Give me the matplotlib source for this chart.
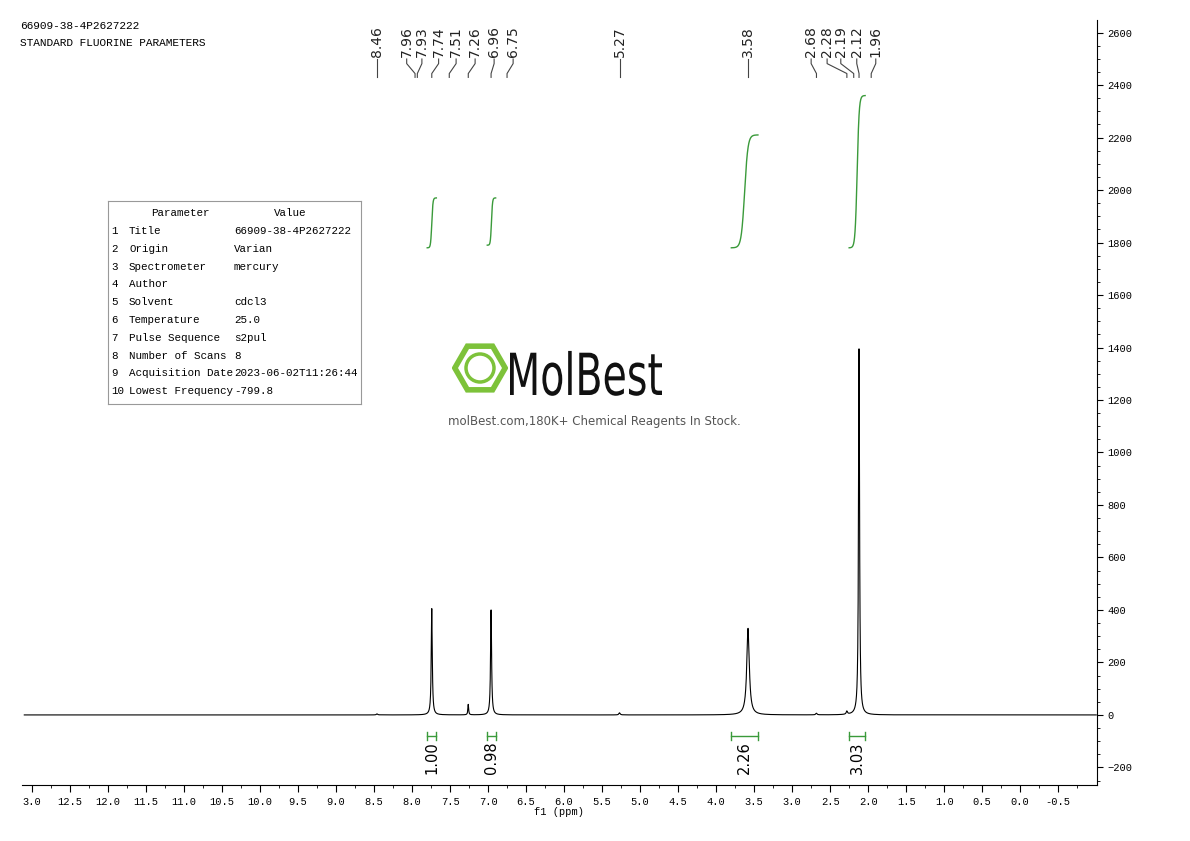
import numpy as np
import matplotlib
matplotlib.use("Agg")
import matplotlib.pyplot as plt
from matplotlib.patches import RegularPolygon, Circle, PathPatch
from matplotlib.textpath import TextPath
from matplotlib.font_manager import FontProperties
import matplotlib.transforms as mtrans

# ---- data ----
peak_pos = [8.46, 7.74, 7.26, 6.96, 5.27, 3.58, 2.68, 2.28, 2.12]
peak_height = [4, 405, 40, 400, 8, 330, 6, 12, 1395]
peak_width = [0.01, 0.008, 0.006, 0.008, 0.01, 0.02, 0.01, 0.01, 0.008]
label_vals = ["8.46", "7.96", "7.93", "7.74", "7.51", "7.26", "6.96", "6.75",
              "5.27", "3.58", "2.68", "2.28", "2.19", "2.12", "1.96"]
label_ppm = [8.46, 7.96, 7.93, 7.74, 7.51, 7.26, 6.96, 6.75, 5.27, 3.58, 2.68, 2.28, 2.19, 2.12, 1.96]
label_xpix_ppm = [8.46, 8.07, 7.87, 7.65, 7.42, 7.17, 6.92, 6.67, 5.27, 3.58, 2.75, 2.54, 2.36, 2.15, 1.90]
int_ranges = [(7.80, 7.68), (7.01, 6.90), (3.80, 3.45), (2.25, 2.04)]
int_values = ["1.00", "0.98", "2.26", "3.03"]
int_start = [1780, 1790, 1780, 1780]
int_end = [1970, 1970, 2210, 2360]
params = ["Title", "Origin", "Spectrometer", "Author", "Solvent", "Temperature",
          "Pulse Sequence", "Number of Scans", "Acquisition Date", "Lowest Frequency"]
values = ["66909-38-4P2627222", "Varian", "mercury", "", "cdcl3", "25.0",
          "s2pul", "8", "2023-06-02T11:26:44", "-799.8"]

mono = ["Liberation Mono", "DejaVu Sans Mono"]
fig = plt.figure(figsize=(11.9, 8.41), dpi=100)
ax = fig.add_axes([22/1190, 56/841, 1075/1190, 765/841])

x = np.linspace(-1.0, 13.1, 60000)
y = np.zeros_like(x)
for p, h, w in zip(peak_pos, peak_height, peak_width):
    y += h * w**2 / ((x - p)**2 + w**2)
ax.plot(x, y, color="black", lw=0.8)

green = "#3a9a3a"
for (a, b), s, e, v in zip(int_ranges, int_start, int_end, int_values):
    xx = np.linspace(a, b, 200)
    t = (a - xx) / (a - b)
    yy = s + (e - s) * (np.tanh((t - 0.5) * 8) + np.tanh(4)) / (2*np.tanh(4))
    ax.plot(xx, yy, color=green, lw=1)
    ax.plot([a, b], [-80, -80], color=green, lw=1)
    ax.plot([a, a], [-95, -65], color=green, lw=1)
    ax.plot([b, b], [-95, -65], color=green, lw=1)
    ax.text((a + b) / 2, -100, v, rotation=90, ha="center", va="top", fontsize=10.5)

ax.set_xlim(13.13, -1.01)
ax.set_ylim(-267, 2648)
for s in ["left", "top"]:
    ax.spines[s].set_visible(False)
ax.yaxis.tick_right()
ax.set_yticks(np.arange(-200, 2601, 200))
ax.set_yticks(np.arange(-250, 2650, 50), minor=True)
ax.set_xticks(np.arange(-0.5, 13.01, 0.5))
ax.set_xticks(np.arange(-0.75, 13.1, 0.5), minor=True)
ax.set_xticklabels(["%.1f" % v if v < 12.9 else "3.0" for v in np.arange(-0.5, 13.01, 0.5)])
ax.tick_params(labelsize=7.5)
for lab in ax.get_xticklabels() + ax.get_yticklabels():
    lab.set_family(mono)
ax.tick_params(axis="x", length=5)
ax.tick_params(axis="y", length=4)
ax.set_xlabel("f1 (ppm)", fontsize=7.5, family=mono, labelpad=0)

# peak labels
tr = mtrans.blended_transform_factory(ax.transData, ax.transAxes)
for v, p, lp in zip(label_vals, label_ppm, label_xpix_ppm):
    ax.text(lp, 0.951, v, rotation=90, ha="center", va="bottom", fontsize=10,
            color="#222", transform=tr)
    ax.plot([lp, lp, p, p], [0.949, 0.943, 0.93, 0.925], color="#444", lw=0.8, transform=tr)

fig.text(20/1190, 1-26/841, "66909-38-4P2627222", family=mono, fontsize=8, va="center")
fig.text(20/1190, 1-43/841, "STANDARD FLUORINE PARAMETERS", family=mono, fontsize=8, va="center")

# parameter table
tb = fig.add_axes([108/1190, 1-404/841, 253/1190, 203/841])
tb.set_xlim(0, 253); tb.set_ylim(203, 0)
tb.set_xticks([]); tb.set_yticks([])
for s in tb.spines.values():
    s.set_color("#999"); s.set_linewidth(0.8)
tb.text(72, 12, "Parameter", ha="center", va="center", family=mono, fontsize=7.8)
tb.text(182, 12, "Value", ha="center", va="center", family=mono, fontsize=7.8)
for i, (pn, vv) in enumerate(zip(params, values)):
    yy = 30 + i * 17.8
    tb.text(3, yy, str(i + 1), va="center", family=mono, fontsize=7.8)
    tb.text(21, yy, pn, va="center", family=mono, fontsize=7.8)
    tb.text(126, yy, vv, va="center", family=mono, fontsize=7.8)

# watermark
lg = fig.add_axes([452/1190, 1-396/841, 56/1190, 56/841])
lg.set_xlim(-1, 1); lg.set_ylim(-1, 1); lg.axis("off"); lg.set_aspect("equal")
lg.add_patch(RegularPolygon((0, 0), 6, radius=0.9, orientation=np.pi/6, fill=False, ec="#7dc23a", lw=4))
lg.add_patch(Circle((0, 0), 0.5, fill=False, ec="#7dc23a", lw=2.5))
tp = TextPath((0, 0), "MolBest", size=58, prop=FontProperties(family="DejaVu Sans"))
ext = tp.get_extents()
sx = 152 / ext.width
tf = mtrans.Affine2D().translate(-ext.x0, 0).scale(sx, 1).translate(510, 841 - 395)
fig.patches.append(PathPatch(tp, transform=tf, fc="#111", ec="none", figure=fig))
fig.text(594/1190, 1-421/841, "molBest.com,180K+ Chemical Reagents In Stock.", fontsize=8.5,
         ha="center", va="center", color="#555")

fig.savefig("out.png", dpi=100)
